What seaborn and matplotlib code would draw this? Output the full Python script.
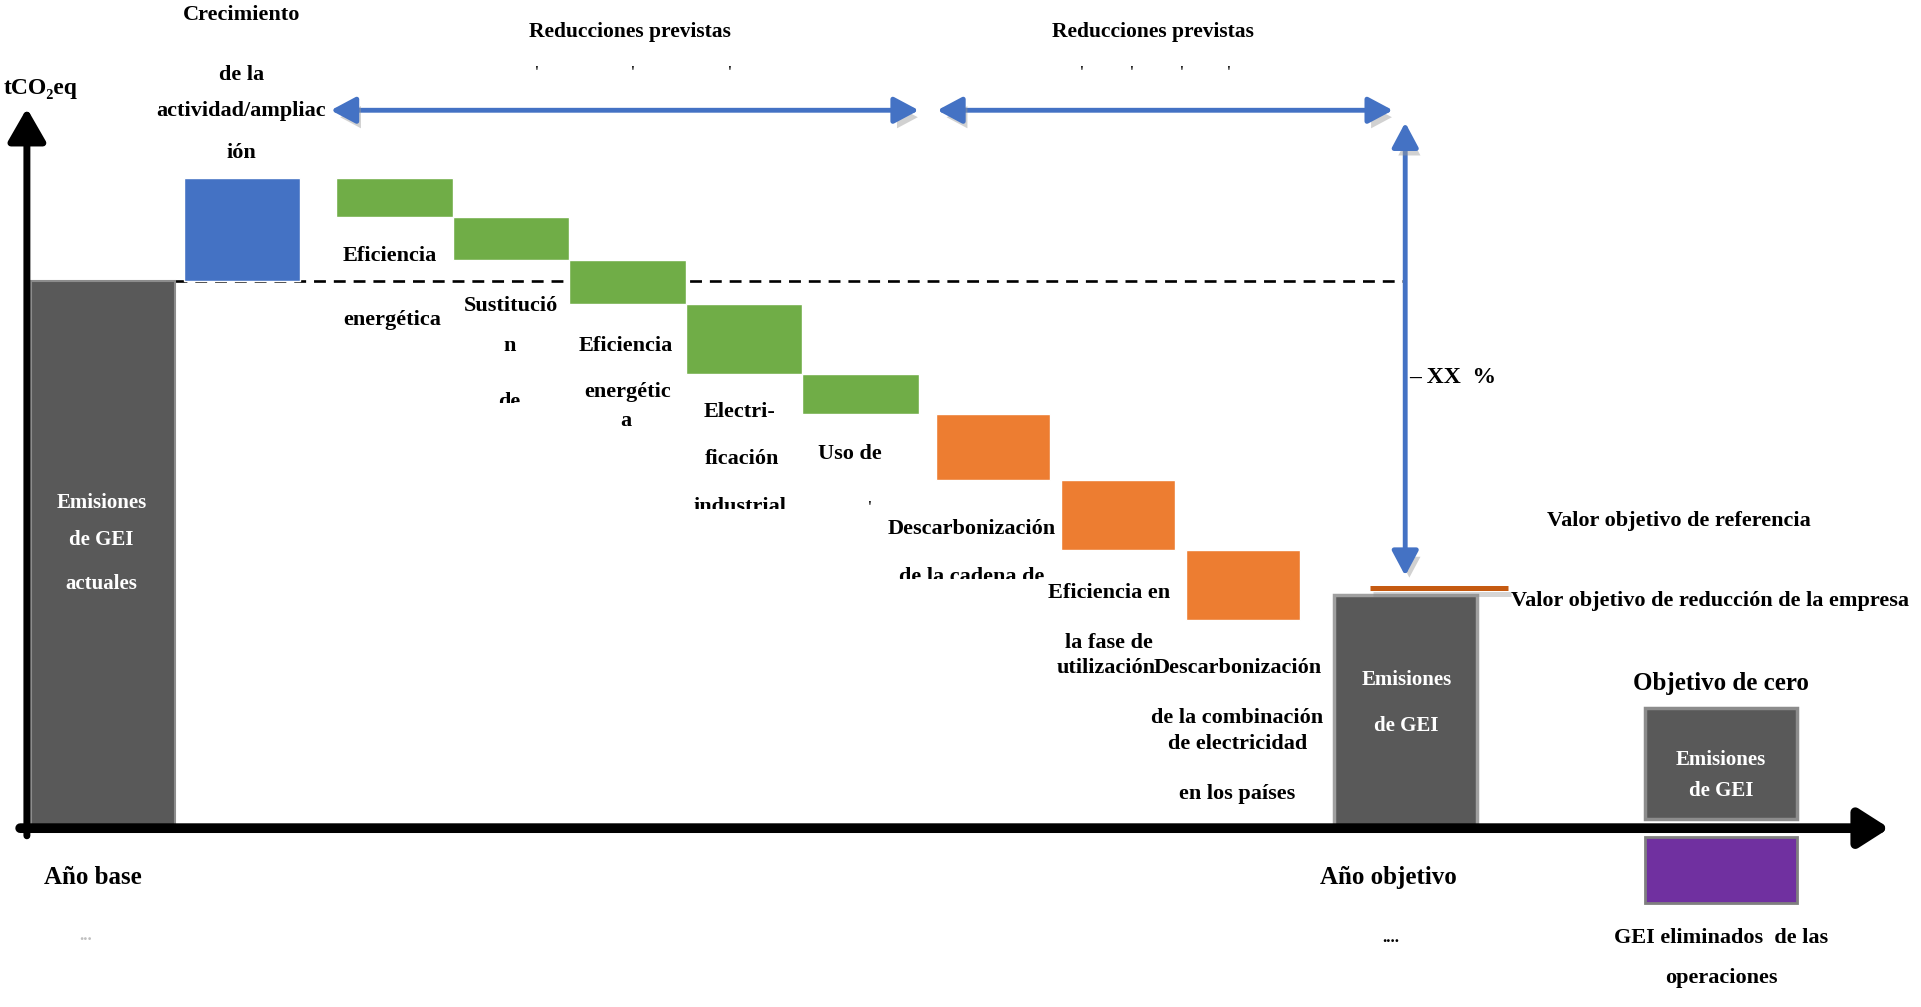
import numpy as np
import matplotlib.pyplot as plt
import matplotlib.patheffects as pe
from matplotlib.transforms import Bbox, TransformedBbox
import seaborn as sns

sns.set_style("white")
plt.rcParams["font.family"] = ["Liberation Serif", "DejaVu Serif"]
plt.rcParams["font.weight"] = "bold"

# emissions in tCO2eq (base year = 100)
base_emissions = 100.0
activity_growth = 18.8
reduction_steps = [7.2, 7.8, 8.1, 12.7, 7.4, 12.1, 12.7, 12.8]
reduction_groups = ["planned_1"] * 5 + ["planned_2"] * 3
target_emissions = 42.5
reference_target = 43.8
residual_emissions = 20.3
removed_emissions = 12.0

# bar layout along x (in bar units): widths and the gap before each bar
bar_widths = [1.23, 0.99, 0.99, 0.99, 0.99, 0.99, 0.99, 0.97, 0.97, 0.97, 1.22, 1.29]
bar_gaps = [0.0, 0.07, 0.31, 0, 0, 0, 0, 0.15, 0.09, 0.09, 0.29, 1.43]

GRAY = "#595959"
BLUE = "#4472C4"
GREEN = "#70AD47"
ORANGE = "#ED7D31"
PURPLE = "#7030A0"
group_colors = {"planned_1": GREEN, "planned_2": ORANGE}


def main():
    fig = plt.figure(figsize=(19.21, 10.07), dpi=100)
    ax = fig.add_axes([0, 0, 1, 1])
    ax.set_xlim(-0.2604, 16.073)
    ax.set_ylim(-32.66, 151.23)
    ax.axis("off")

    widths = np.array(bar_widths)
    lefts = np.cumsum(np.array(bar_gaps) + widths) - widths
    centers = lefts + widths / 2

    # base year
    ax.bar(lefts[0], base_emissions, width=widths[0], align="edge",
           color=GRAY, edgecolor="#8c8c8c", lw=1.5, zorder=2)
    # growth
    ax.bar(lefts[1], activity_growth, bottom=base_emissions, width=widths[1],
           align="edge", color=BLUE, zorder=2)
    # reductions (waterfall)
    level = base_emissions + activity_growth
    for i, (step, group) in enumerate(zip(reduction_steps, reduction_groups)):
        ax.bar(lefts[2 + i], step, bottom=level - step, width=widths[2 + i],
               align="edge", color=group_colors[group], zorder=2)
        level -= step
    # target year
    t = 2 + len(reduction_steps)
    ax.bar(lefts[t], target_emissions, width=widths[t], align="edge",
           color=GRAY, edgecolor="#a0a0a0", lw=2.5, zorder=2)
    ax.hlines(reference_target, lefts[t] + 0.31, lefts[t] + widths[t] + 0.26,
              color="#C55A11", lw=3.6, zorder=3,
              path_effects=[pe.SimpleLineShadow(offset=(2, -4), shadow_color="#888888", alpha=0.35),
                            pe.Normal()])
    # net zero
    gap = 1.7
    ax.bar(lefts[t + 1], residual_emissions, bottom=gap, width=widths[t + 1],
           align="edge", color=GRAY, edgecolor="#8c8c8c", lw=2.5, zorder=2)
    ax.bar(lefts[t + 1], removed_emissions, bottom=-gap - removed_emissions,
           width=widths[t + 1], align="edge", color=PURPLE, edgecolor="#7f7f7f",
           lw=2, zorder=2)

    # dashed base line
    sns.lineplot(x=[lefts[0] + widths[0], centers[t]],
                 y=[base_emissions, base_emissions], ax=ax, color="black",
                 lw=1.9, zorder=1)
    ax.lines[-1].set_linestyle((0, (4.5, 3)))

    # axes arrows
    ax.annotate("", xy=(0.014, 0.8925), xytext=(0.014, 0.170),
                xycoords="figure fraction", textcoords="figure fraction",
                arrowprops=dict(arrowstyle="-|>,head_length=20,head_width=11.5",
                                lw=5, color="black", shrinkA=0, shrinkB=0,
                                mutation_scale=1), zorder=5)
    ax.annotate("", xy=(0.9835, 0.1776), xytext=(0.0105, 0.1776),
                xycoords="figure fraction", textcoords="figure fraction",
                arrowprops=dict(arrowstyle="-|>,head_length=18,head_width=11.5",
                                lw=7, color="black", shrinkA=0, shrinkB=0,
                                mutation_scale=1), zorder=5)

    # blue range arrows
    shadow = [pe.SimplePatchShadow(offset=(3, -5), shadow_rgbFace="#9a9a9a", alpha=0.45),
              pe.Normal()]
    blue_arrow = dict(arrowstyle="<|-|>,head_length=15,head_width=8", lw=3.5,
                      color=BLUE, shrinkA=0, shrinkB=0, mutation_scale=1,
                      path_effects=shadow)
    for x0, x1 in [(0.1722, 0.4783), (0.4879, 0.7251)]:
        ax.annotate("", xy=(x1, 0.8905), xytext=(x0, 0.8905),
                    xycoords="figure fraction", textcoords="figure fraction",
                    arrowprops=blue_arrow, zorder=4)
    ax.annotate("", xy=(0.7315, 0.4282), xytext=(0.7315, 0.8783),
                xycoords="figure fraction", textcoords="figure fraction",
                arrowprops=blue_arrow, zorder=4)

    def label(x, y_top, s, size=16, color="black", ha="center", clip=None):
        txt = ax.text(x, 1 - y_top, s, transform=fig.transFigure, ha=ha,
                      va="center", fontsize=size, fontweight="bold", color=color,
                      zorder=6)
        if clip is not None:
            box = Bbox([[0, 1 - clip], [1, 1]])
            txt.set_clip_box(TransformedBbox(box, fig.transFigure))
            txt.set_clip_path(None)
            txt.set_clip_on(True)
        return txt

    label(0.1256, 0.0150, "Crecimiento")
    label(0.1256, 0.0742, "de la")
    label(0.1256, 0.1107, "actividad/ampliac")
    label(0.1256, 0.1521, "ión")
    label(0.3278, 0.0316, "Reducciones previstas", size=15.5)
    label(0.6001, 0.0316, "Reducciones previstas", size=15.5)
    for x in [0.2793, 0.3297, 0.3801, 0.5632, 0.5893, 0.6154, 0.6397]:
        label(x, 0.0720, "'", size=10)
    label(0.021, 0.0876, "tCO₂eq", size=17)

    label(0.2028, 0.2543, "Eficiencia")
    label(0.2041, 0.3175, "energética")
    label(0.2659, 0.3041, "Sustitució")
    label(0.2653, 0.3431, "n")
    label(0.2653, 0.3990, "de", clip=0.4005)
    label(0.3259, 0.3431, "Eficiencia")
    label(0.3265, 0.3893, "energétic")
    label(0.3259, 0.4185, "a")
    label(0.3852, 0.4088, "Electri-")
    label(0.3865, 0.4562, "ficación")
    label(0.3852, 0.5036, "industrial", clip=0.5050)
    label(0.4426, 0.4513, "Uso de")
    label(0.4528, 0.5036, "'", size=10)
    label(0.5057, 0.5255, "Descarbonización")
    label(0.5057, 0.5730, "de la cadena de", clip=0.5745)
    label(0.5772, 0.5888, "Eficiencia en")
    label(0.5772, 0.6387, "la fase de")
    label(0.5759, 0.6630, "utilización")
    label(0.6441, 0.6630, "Descarbonización")
    label(0.6441, 0.7129, "de la combinación")
    label(0.6441, 0.7384, "de electricidad")
    label(0.6441, 0.7883, "en los países")

    label(0.0529, 0.5000, "Emisiones", size=15, color="white")
    label(0.0529, 0.5365, "de GEI", size=15, color="white")
    label(0.0529, 0.5803, "actuales", size=15, color="white")
    label(0.7321, 0.6752, "Emisiones", size=15, color="white")
    label(0.7321, 0.7214, "de GEI", size=15, color="white")
    label(0.8960, 0.7543, "Emisiones", size=15, color="white")
    label(0.8960, 0.7859, "de GEI", size=15, color="white")

    label(0.7334, 0.3747, "– XX  %", size=17, ha="left")
    label(0.8737, 0.5170, "Valor objetivo de referencia")
    label(0.7864, 0.5973, "Valor objetivo de reducción de la empresa", ha="left")
    label(0.8960, 0.6788, "Objetivo de cero", size=18)

    label(0.0485, 0.8710, "Año base", size=18)
    label(0.0446, 0.9294, "...", size=12, color="#c0c0c0")
    label(0.7226, 0.8710, "Año objetivo", size=18)
    label(0.7239, 0.9319, "....", size=12)
    label(0.8960, 0.9319, "GEI eliminados  de las")
    label(0.8960, 0.9708, "operaciones")

    fig.savefig("out.png", dpi=100)
    plt.close(fig)


if __name__ == "__main__":
    main()
